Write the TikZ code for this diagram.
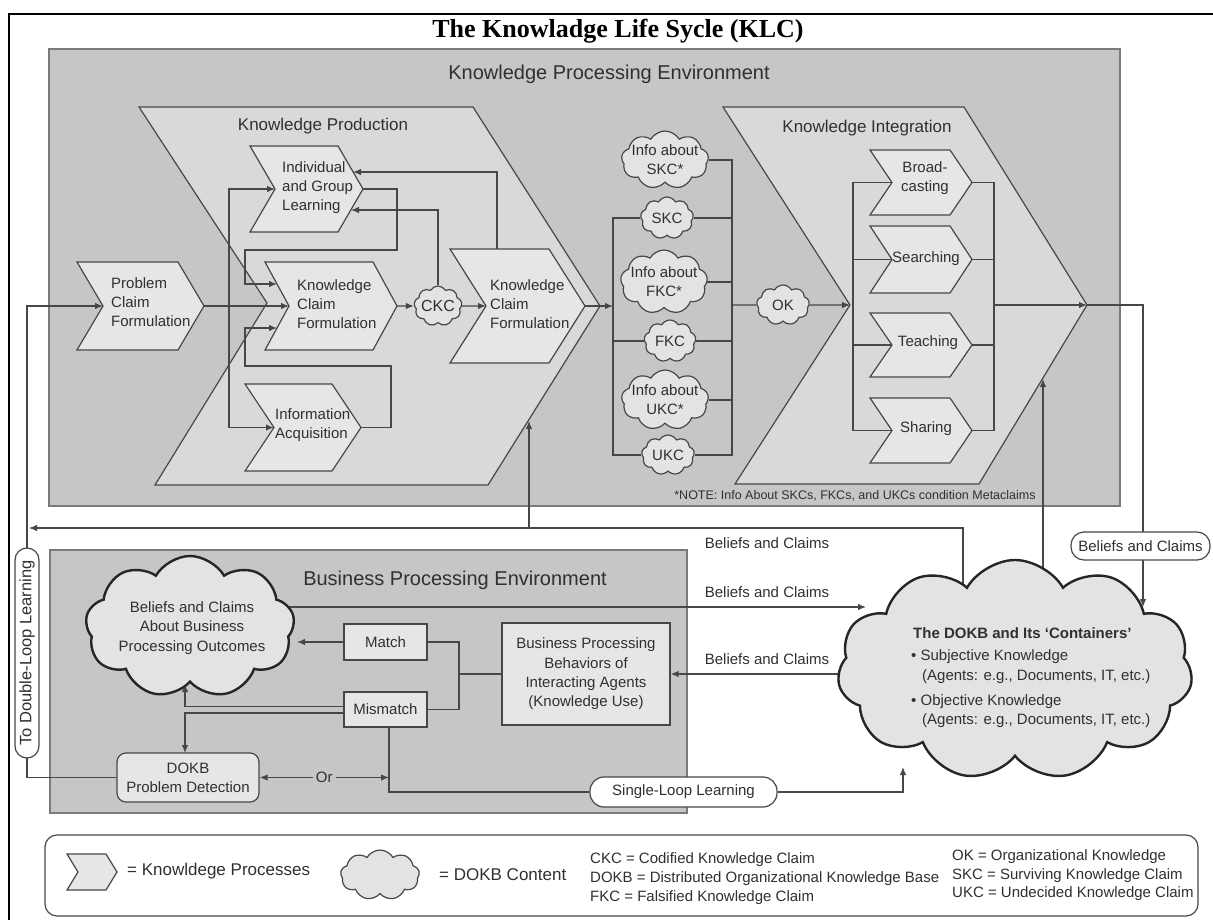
\documentclass[tikz,border=0pt]{standalone}
\usepackage{fontspec}
\setmainfont{Liberation Sans}
\newfontfamily\titlefont{Liberation Serif}
\usetikzlibrary{shapes.symbols,arrows.meta,calc}
\definecolor{bgc}{HTML}{C6C6C6}
\definecolor{bigc}{HTML}{D9D9D9}
\definecolor{smc}{HTML}{E6E6E6}
\definecolor{cldc}{HTML}{E3E3E3}
\definecolor{lnc}{HTML}{474747}
\definecolor{txc}{HTML}{303030}
\definecolor{edgec}{HTML}{7A7A7A}
\newcommand{\fs}[2]{\fontsize{#1}{#2}\selectfont}
\newcommand{\mychev}[7]{%
  \draw[#7] (#2,#3) -- ({#2+#4},#3) -- ({#2+#4+#6},{#3+#5/2}) -- ({#2+#4},{#3+#5}) -- (#2,{#3+#5}) -- ({#2+#6},{#3+#5/2}) -- cycle;
  \coordinate (#1-tip) at ({#2+#4+#6},{#3+#5/2});
  \coordinate (#1-notch) at ({#2+#6},{#3+#5/2});
}
\tikzset{
  ln/.style={draw=lnc, line width=1.2pt},
  arr/.style={ln, -{Latex[length=8pt,width=6.5pt]}},
  darr/.style={ln, {Latex[length=8pt,width=6.5pt]}-{Latex[length=8pt,width=6.5pt]}},
  bigchev/.style={draw=lnc, line width=1.2pt, fill=bigc},
  smchev/.style={draw=lnc, line width=1.2pt, fill=smc},
  t15/.style={text=txc, font=\fs{15}{19}, inner sep=0pt, align=left},
  t17/.style={text=txc, font=\fs{17}{20}, inner sep=0pt},
  t20/.style={text=txc, font=\fs{20}{24}, inner sep=0pt},
  cld/.style={cloud, cloud puffs=9, cloud puff arc=120, cloud ignores aspect, draw=lnc, line width=1.2pt, fill=cldc, inner sep=0pt},
  bigcld/.style={cld, cloud puffs=11, line width=2.4pt, draw=black!85},
  rbox/.style={draw=lnc, line width=1.2pt, fill=smc, inner sep=0pt, text=txc, font=\fs{15}{19.3}, align=center},
  pill/.style={draw=lnc, line width=1.2pt, fill=white, inner sep=0pt, text=txc, font=\fs{15}{19}},
  bgbox/.style={draw=edgec, line width=1.5pt, fill=bgc, inner sep=0pt},
}
\begin{document}
\begin{tikzpicture}[x=1pt,y=-1pt]
\useasboundingbox (0,0) rectangle (1213,920);
\fill[white] (0,0) rectangle (1213,920);
\draw[line width=2.2pt] (8.7,930) -- (8.7,14) -- (1225,14);
\node[font=\titlefont\bfseries\fs{26}{30}, inner sep=0pt] (title) at (618,31) {The Knowladge Life Sycle (KLC)};

% environments
\node[bgbox, minimum width=1071pt, minimum height=457pt] (KPE) at (584.5,277.5) {};
\node[t20] (KPEl) at (609,74) {Knowledge Processing Environment};
\node[bgbox, minimum width=637pt, minimum height=263pt] (BPE) at (368.5,681.5) {};
\node[t20] (BPEl) at (455,580) {Business Processing Environment};

% big chevrons
\draw[bigchev] (139,107) -- (473,107) -- (600,306) -- (488,485) -- (155,485) -- (267,303) -- cycle;
\coordinate (KP-tip) at (600,306);
\node[t17] (KPl) at (323,126) {Knowledge Production};
\draw[bigchev] (723,107) -- (964,107) -- (1087,305) -- (979,484) -- (735,484) -- (850,305) -- cycle;
\coordinate (KI-tip) at (1087,305);
\coordinate (KI-notch) at (850,305);
\node[t17] (KIl) at (867,128) {Knowledge Integration};
\node[text=txc, font=\fs{12.5}{14}, inner sep=0pt] (note) at (855,496) {*NOTE: Info About SKCs, FKCs, and UKCs condition Metaclaims};

% small chevrons
\mychev{PCF}{77}{262}{101}{88}{26}{smchev}
\node[t15, anchor=west] (PCFt) at (111,302) {Problem\\Claim\\Formulation};
\mychev{IGL}{250}{146}{88}{86}{25}{smchev}
\node[t15, anchor=west] (IGLt) at (282,188) {Individual\\and Group\\Learning};
\mychev{KCFa}{265}{262}{108}{88}{24}{smchev}
\node[t15, anchor=west] (KCFat) at (297,304) {Knowledge\\Claim\\Formulation};
\mychev{KCFb}{450}{249}{99}{114}{36}{smchev}
\node[t15, anchor=west] (KCFbt) at (490,304) {Knowledge\\Claim\\Formulation};
\mychev{IA}{245}{384}{87}{87}{29}{smchev}
\node[t15, anchor=west] (IAt) at (275,425) {Information\\Acquisition};

\mychev{BC}{870}{150}{80}{65}{22}{smchev}
\node[t15, align=center] (BCt) at (925,178) {Broad-\\casting};
\mychev{SR}{870}{226}{80}{67}{22}{smchev}
\node[t15] (SRt) at (926,259) {Searching};
\mychev{TC}{870}{313}{80}{64}{22}{smchev}
\node[t15] (TCt) at (928,343) {Teaching};
\mychev{SH}{870}{398}{80}{65}{22}{smchev}
\node[t15] (SHt) at (926,429) {Sharing};

% knowledge production connectors
\coordinate (bus) at (229,306);
\draw[arr] (PCF-tip) -- (KCFa-notch);
\draw[arr] (bus) |- (IGL-notch);
\draw[arr] (bus) |- (IA-notch);
\coordinate (KCFa-ul) at (277,284);
\coordinate (KCFa-ll) at (277,328);
\draw[arr] (IGL-tip) -- ++(34,0) |- (245,250) |- (KCFa-ul);
\draw[arr] (IA-tip) -- ++(30,0) |- (245,366) |- (KCFa-ll);
\coordinate (IGL-ur) at (353,172);
\coordinate (IGL-lr) at (351,210);
\node[cld, minimum width=48pt, minimum height=40pt] (CKC) at (438,306) {};
\node[t15, font=\fs{16}{19}] (CKCt) at (CKC) {CKC};
\draw[arr] (KCFa-tip) -- (CKC.west);
\draw[arr] (CKC.east) -- (KCFb-notch);
\draw[arr] (CKC.north) |- (IGL-lr);
\coordinate (KCFb-top) at (497,249);
\draw[arr] (KCFb-top) |- (IGL-ur);

% claims column
\node[cld, minimum width=87pt, minimum height=58pt] (iSKC) at (665,160) {};
\node[t15, align=center] (iSKCt) at (iSKC) {Info about\\SKC*};
\node[cld, minimum width=53pt, minimum height=42pt] (SKC) at (667,218) {};
\node[t15] (SKCt) at (SKC) {SKC};
\node[cld, minimum width=87pt, minimum height=64pt] (iFKC) at (664,282) {};
\node[t15, align=center] (iFKCt) at (iFKC) {Info about\\FKC*};
\node[cld, minimum width=52pt, minimum height=42pt] (FKC) at (670,341) {};
\node[t15] (FKCt) at (FKC) {FKC};
\node[cld, minimum width=87pt, minimum height=60pt] (iUKC) at (665,400) {};
\node[t15, align=center] (iUKCt) at (iUKC) {Info about\\UKC*};
\node[cld, minimum width=53pt, minimum height=40pt] (UKC) at (668,455) {};
\node[t15] (UKCt) at (UKC) {UKC};
\node[cld, minimum width=53pt, minimum height=40pt] (OK) at (783,305) {};
\node[t15] (OKt) at (OK) {OK};

\coordinate (cbL) at (613,306);
\coordinate (cbR) at (732,305);
\draw[arr] (KCFb-tip) -- (cbL);
\draw[ln] (SKC.west) -| (cbL);
\draw[ln] (UKC.west) -| (cbL);
\draw[ln] (FKC.west) -- (FKC.west -| cbL);
\draw[ln] (iSKC.east) -| (cbR);
\draw[ln] (UKC.east) -| (cbR);
\draw[ln] (SKC.east) -- (SKC.east -| cbR);
\draw[ln] (iFKC.east) -- (iFKC.east -| cbR);
\draw[ln] (FKC.east) -- (FKC.east -| cbR);
\draw[ln] (iUKC.east) -- (iUKC.east -| cbR);
\draw[ln] (cbR) -- (OK.west);
\draw[arr] (OK.east) -- (KI-notch);

% integration connectors
\coordinate (kiL) at (853,305);
\coordinate (kiR) at (994,305);
\draw[ln] (BC-notch) -| (kiL);
\draw[ln] (SH-notch) -| (kiL);
\draw[ln] (SR-notch) -- (SR-notch -| kiL);
\draw[ln] (TC-notch) -- (TC-notch -| kiL);
\draw[ln] (BC-tip) -| (kiR);
\draw[ln] (SH-tip) -| (kiR);
\draw[ln] (SR-tip) -- (SR-tip -| kiR);
\draw[ln] (TC-tip) -- (TC-tip -| kiR);
\draw[arr] (kiR) -- (KI-tip);

% feedback from DOKB
\coordinate (dkTop) at (1143,607);
\draw[arr] (KI-tip) -| (dkTop);
\coordinate (KI-be) at (1043,379);
\coordinate (dkA) at (1043,620);
\draw[arr] (dkA) -- (KI-be);
\coordinate (dkB) at (963,620);
\coordinate (fbL) at (29,528);
\draw[arr] (dkB) |- (fbL);
\coordinate (KP-be) at (529,421);
\coordinate (fbJ) at (529,528);
\draw[arr] (fbJ) -- (KP-be);

% business processing
\node[rbox, minimum width=83pt, minimum height=36pt] (Match) at (385.5,642) {Match};
\node[rbox, minimum width=83pt, minimum height=35pt] (Mismatch) at (385.5,709.5) {Mismatch};
\node[rbox, minimum width=168pt, minimum height=102pt] (BPB) at (586,674) {Business Processing\\Behaviors of\\Interacting Agents\\(Knowledge Use)};
\node[rbox, rounded corners=9pt, minimum width=142pt, minimum height=49pt] (DPD) at (188,777.5) {DOKB\\Problem Detection};
\node[pill, rounded corners=14pt, minimum width=187pt, minimum height=30pt] (SLL) at (683.5,792) {Single-Loop Learning};

\coordinate (jn) at (459,674);
\draw[ln] (Match.east) -| (jn) |- (Mismatch.east);
\draw[ln] (jn) -- (BPB.west);
\coordinate (bcE) at (297,642);
\draw[arr] (Match.west) -- (bcE);
\coordinate (bcS) at (185,684);
\coordinate (dpdN) at (185,753);
\draw[arr] ([yshift=3pt]Mismatch.west) -| (bcS);
\draw[arr] ([yshift=-3.5pt]Mismatch.west) -| (dpdN);
\coordinate (mv) at (389,727);
\draw[ln] (mv) |- (SLL.west);
\coordinate (dkBot) at (903,767);
\draw[arr] (SLL.east) -| (dkBot);
\draw[darr] (DPD.east) -- (DPD.east -| mv) node[midway, t15, fill=bgc, inner sep=3pt] (Or) {Or};
\coordinate (bcR) at (280,607);
\coordinate (dkL) at (866,607);
\draw[arr] (bcR) -- (dkL);
\coordinate (dkW) at (850,674);
\draw[arr] (dkW) -- (BPB.east);
\coordinate (dl) at (27,306);
\draw[arr] (DPD.west) -| (dl) -- (PCF-notch);

% big clouds
\node[bigcld, cloud puffs=9, minimum width=209pt, minimum height=142pt] (BCBPO) at (190,627) {};
\node[t15, align=center, font=\fs{15}{19.5}] (BCBPOt) at (192,628) {Beliefs and Claims\\About Business\\Processing Outcomes};
\node[bigcld, minimum width=355pt, minimum height=220pt] (DOKB) at (1015,670) {};
\node[t15, anchor=west, font=\bfseries\fs{15}{19}] (dk1) at (913,633) {The DOKB and Its ‘Containers’};
\node[t15, anchor=west] (dk2) at (911,657) {• Subjective Knowledge};
\node[t15, anchor=west] (dk3) at (922,677) {(Agents: e.g., Documents, IT, etc.)};
\node[t15, anchor=west] (dk4) at (911,702) {• Objective Knowledge};
\node[t15, anchor=west] (dk5) at (922,721) {(Agents: e.g., Documents, IT, etc.)};

% pills and labels
\node[pill, rotate=90, rounded corners=12pt, minimum width=210pt, minimum height=24pt, font=\fs{16.5}{19}] (DLL) at (27,653) {To Double-Loop Learning};
\node[pill, rounded corners=13pt, minimum width=139pt, minimum height=28pt] (BCr) at (1140.5,546) {Beliefs and Claims};
\node[t15] (bc1) at (767,543) {Beliefs and Claims};
\node[t15] (bc2) at (767,592) {Beliefs and Claims};
\node[t15] (bc3) at (767,659) {Beliefs and Claims};

% legend
\node[draw=lnc, line width=1.2pt, rounded corners=12pt, fill=white, minimum width=1153pt, minimum height=81pt, inner sep=0pt] (legend) at (621.5,875.5) {};
\mychev{LG}{67}{854}{39}{36}{11}{smchev}
\node[t17, anchor=west] (lg1) at (127,871) {= Knowldege Processes};
\node[cld, minimum width=79pt, minimum height=50pt] (LC) at (380,875) {};
\node[t17, anchor=west] (lg2) at (439,875) {= DOKB Content};
\node[t15, anchor=west] (ab1) at (590,860) {CKC = Codified Knowledge Claim};
\node[t15, anchor=west] (ab2) at (590,879) {DOKB = Distributed Organizational Knowledge Base};
\node[t15, anchor=west] (ab3) at (590,898) {FKC = Falsified Knowledge Claim};
\node[t15, anchor=west] (ab4) at (952,857) {OK = Organizational Knowledge};
\node[t15, anchor=west] (ab5) at (952,876) {SKC = Surviving Knowledge Claim};
\node[t15, anchor=west] (ab6) at (952,894) {UKC = Undecided Knowledge Claim};
\end{tikzpicture}
\end{document}
